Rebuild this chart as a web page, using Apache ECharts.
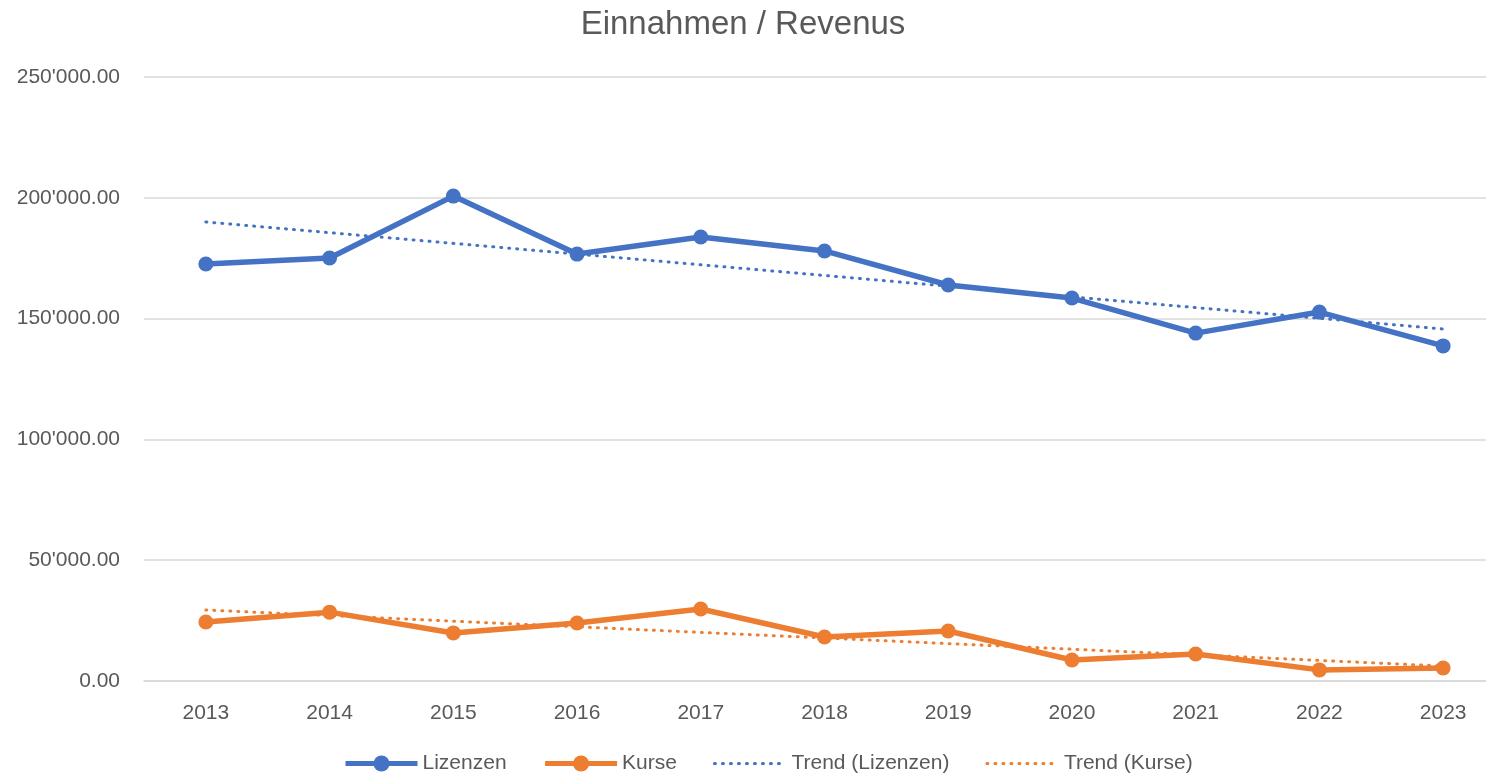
<!DOCTYPE html>
<html>
<head>
<meta charset="utf-8">
<title>Einnahmen / Revenus</title>
<script src="https://cdn.jsdelivr.net/npm/echarts@6/dist/echarts.min.js"></script>
<style>
  html, body { margin: 0; padding: 0; background: #fff; }
  #chart { width: 1486px; height: 776px; }
</style>
</head>
<body>
<div id="chart"></div>
<script>
// Jahre
var years = ['2013', '2014', '2015', '2016', '2017', '2018', '2019', '2020', '2021', '2022', '2023'];
// Einnahmen Lizenzen
var lizenzen = [172600, 175100, 200700, 176700, 183800, 178000, 163900, 158500, 144000, 152700, 138700];
// Einnahmen Kurse
var kurse = [24400, 28500, 19900, 24000, 29800, 18200, 20700, 8700, 11200, 4600, 5400];
// Trendlinien: nur Anfangs- und Endwert
var trendLizenzen = [190000, null, null, null, null, null, null, null, null, null, 145700];
var trendKurse = [29400, null, null, null, null, null, null, null, null, null, 6200];

var blue = '#4472C4';
var orange = '#ED7D31';
var textColor = '#595959';
var font = 'Liberation Sans';

function fmt(v) {
  var s = v.toFixed(2).split('.');
  return s[0].replace(/\B(?=(\d{3})+(?!\d))/g, "'") + '.' + s[1];
}

var dotted = { width: 3, type: [1, 7], cap: 'round' };

var chart = echarts.init(document.getElementById('chart'));
chart.setOption({
  animation: false,
  title: {
    text: 'Einnahmen / Revenus',
    left: 'center',
    top: 3,
    textStyle: { color: textColor, fontSize: 33, fontWeight: 'normal', fontFamily: font }
  },
  legend: {
    top: 748,
    left: 338,
    itemWidth: 72,
    itemHeight: 20,
    itemGap: 36,
    textStyle: { color: textColor, fontSize: 21, fontFamily: font },
    lineStyle: { width: 5 },
    data: [
      { name: 'Lizenzen' },
      { name: 'Kurse' },
      { name: 'Trend (Lizenzen)', itemStyle: { opacity: 0 }, lineStyle: dotted },
      { name: 'Trend (Kurse)', itemStyle: { opacity: 0 }, lineStyle: dotted }
    ]
  },
  grid: { left: 144, top: 77, width: 1361, height: 604, outerBoundsMode: 'none' },
  xAxis: {
    type: 'category',
    data: years,
    boundaryGap: true,
    axisLine: { lineStyle: { color: '#D9D9D9', width: 1.5 } },
    axisTick: { show: false },
    axisLabel: { color: textColor, fontSize: 21, margin: 22, fontFamily: font }
  },
  yAxis: {
    type: 'value',
    min: 0,
    max: 250000,
    interval: 50000,
    axisLine: { show: false },
    axisTick: { show: false },
    splitLine: { lineStyle: { color: '#D9D9D9', width: 1.5 } },
    axisLabel: { color: textColor, fontSize: 21, margin: 24, fontFamily: font, formatter: fmt }
  },
  series: [
    {
      name: 'Lizenzen',
      type: 'line',
      data: lizenzen,
      symbol: 'circle',
      symbolSize: 15,
      itemStyle: { color: blue },
      lineStyle: { color: blue, width: 5.5 }
    },
    {
      name: 'Kurse',
      type: 'line',
      data: kurse,
      symbol: 'circle',
      symbolSize: 15,
      itemStyle: { color: orange },
      lineStyle: { color: orange, width: 5.5 }
    },
    {
      name: 'Trend (Lizenzen)',
      type: 'line',
      data: trendLizenzen,
      connectNulls: true,
      symbol: 'none',
      itemStyle: { color: blue },
      lineStyle: { color: blue, width: 3, type: [1, 7], cap: 'round' }
    },
    {
      name: 'Trend (Kurse)',
      type: 'line',
      data: trendKurse,
      connectNulls: true,
      symbol: 'none',
      itemStyle: { color: orange },
      lineStyle: { color: orange, width: 3, type: [1, 7], cap: 'round' }
    }
  ]
});
</script>
</body>
</html>
